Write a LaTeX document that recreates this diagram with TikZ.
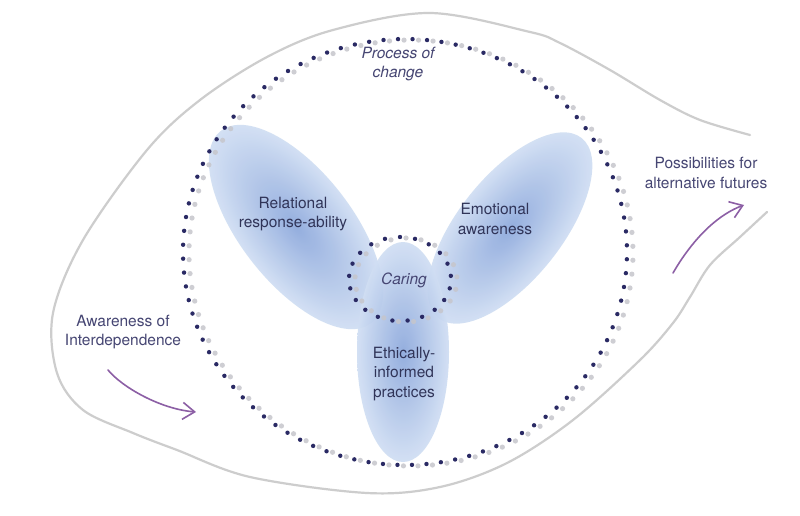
\documentclass[tikz,border=0pt]{standalone}
\usepackage{fontspec}
\setmainfont{TeX Gyre Heros}
\usetikzlibrary{arrows.meta}
\definecolor{txt}{RGB}{48,52,88}
\definecolor{txtl}{RGB}{70,70,115}
\definecolor{navy}{RGB}{42,42,100}
\definecolor{dotshadow}{RGB}{198,198,204}
\definecolor{petalD}{RGB}{140,168,220}
\definecolor{petalL}{RGB}{208,222,243}
\definecolor{outline}{RGB}{205,205,205}
\definecolor{arrowc}{RGB}{140,95,165}
\begin{document}
\begin{tikzpicture}[x=1pt,y=1pt,
  lbl/.style={text=txt, font=\fontsize{15.5}{19.5}\selectfont, align=center, inner sep=0pt},
  lbll/.style={lbl, text=txtl},
  ilbl/.style={lbl, text=txtl, font=\fontsize{15.5}{19.5}\selectfont\itshape},
  arr/.style={draw=arrowc, line width=1.6pt, line cap=round, -{Straight Barb[length=12pt,width=17pt,line width=1.6pt]}},
  petal/.style={inner color=petalD, outer color=petalL, opacity=0.92},
  outer/.style={draw=outline, line width=2.2pt, line cap=round},
  bigdot/.style={fill=navy},
  dotsh/.style={fill=dotshadow, opacity=0.85},
  ]
\useasboundingbox (0,0) rectangle (800,515);
\fill[white] (0,0) rectangle (800,515);

% outer leaf-shaped contour
\draw[outer] plot[smooth, tension=0.55] coordinates {
 (750,380) (700,395) (660,415) (610,445) (560,472) (530,483) (430,502)
 (333,485) (267,458) (200,415) (147,365) (83,275) (53,202) (57,142)
 (83,105) (133,82) (177,65) (250,38) (367,22) (440,28) (507,52)
 (573,95) (640,155) (673,192) (690,218) (710,250) (740,278) (767,303)};

% petals
\begin{scope}[transform canvas={shift={(296,288)},rotate=-52}]
  \shade[petal] (0,0) ellipse (122 and 56);
\end{scope}
\begin{scope}[transform canvas={shift={(510,287)},rotate=51.5}]
  \shade[petal] (0,0) ellipse (115 and 52);
\end{scope}
\begin{scope}[transform canvas={shift={(403,163)}}]
  \shade[petal] (0,0) ellipse (46 and 110);
\end{scope}

% big dotted circle
\begin{scope}[shift={(405,263)}]
  \foreach \i in {0,...,95} {
    \pgfmathsetmacro\ang{\i*3.75+1.8}
    \fill[dotsh] ({222*cos(\ang)+6},{213*sin(\ang)-1}) circle (2.6);
  }
  \foreach \i in {0,...,95} {
    \pgfmathsetmacro\ang{\i*3.75+1.8}
    \fill[bigdot] ({222*cos(\ang)},{213*sin(\ang)}) circle (2.2);
  }
\end{scope}

% small dotted circle
\begin{scope}[shift={(400,236)}]
  \foreach \i in {0,...,20} {
    \pgfmathsetmacro\ang{\i*360/21+90}
    \fill[dotsh] ({51*cos(\ang)+6},{42*sin(\ang)-1}) circle (2.6);
  }
  \foreach \i in {0,...,20} {
    \pgfmathsetmacro\ang{\i*360/21+90}
    \fill[bigdot] ({51*cos(\ang)},{42*sin(\ang)}) circle (2.2);
  }
\end{scope}

% labels
\node[ilbl] (proc) at (398,451) {Process of\\change};
\node[lbl] (rel) at (293,301) {Relational\\response-ability};
\node[lbl] (emo) at (495,296) {Emotional\\awareness};
\node[ilbl] (car) at (404,235) {Caring};
\node[lbl] (eth) at (404,141) {Ethically-\\informed\\practices};
\node[lbll] (awa) at (123,183) {Awareness of\\Interdependence};
\node[lbll] (pos) at (706,342) {Possibilities for\\alternative futures};

% arrows
\coordinate (a1s) at (108,145);
\coordinate (a1e) at (196,103);
\draw[arr] (a1s) .. controls (122,128) and (160,106) .. (a1e);
\coordinate (a2s) at (673,242);
\coordinate (a2e) at (744,310);
\draw[arr] (a2s) .. controls (688,268) and (712,298) .. (a2e);
\end{tikzpicture}
\end{document}
